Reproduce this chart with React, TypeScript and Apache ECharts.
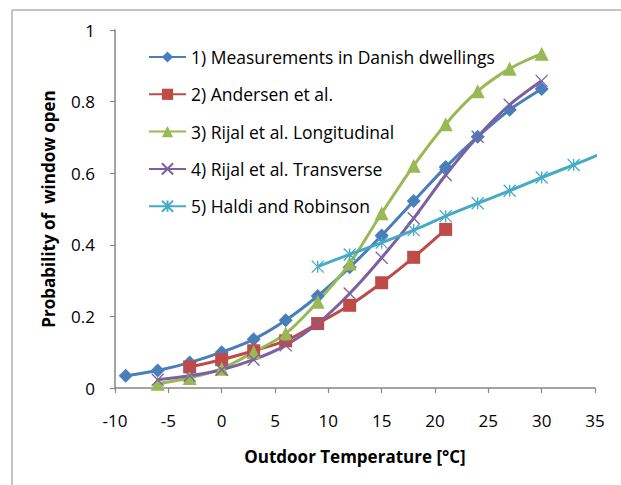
import React, { useEffect, useRef } from "react";
import * as echarts from "echarts";

const temps1 = [-9, -6, -3, 0, 3, 6, 9, 12, 15, 18, 21, 24, 27, 30];
const measured = [0.034, 0.049, 0.071, 0.1, 0.136, 0.189, 0.257, 0.337, 0.426, 0.522, 0.617, 0.702, 0.777, 0.835];

const temps2 = [-3, 0, 3, 6, 9, 12, 15, 18, 21];
const andersen = [0.059, 0.079, 0.104, 0.132, 0.18, 0.231, 0.294, 0.365, 0.443];

const temps3 = [-6, -3, 0, 3, 6, 9, 12, 15, 18, 21, 24, 27, 30];
const rijalLong = [0.012, 0.028, 0.054, 0.1, 0.152, 0.241, 0.348, 0.488, 0.621, 0.737, 0.829, 0.892, 0.934];

const temps4 = [-6, -3, 0, 3, 6, 9, 12, 15, 18, 21, 24, 27, 30];
const rijalTrans = [0.023, 0.034, 0.051, 0.079, 0.119, 0.18, 0.264, 0.364, 0.474, 0.595, 0.702, 0.791, 0.858];

const temps5 = [9, 12, 15, 18, 21, 24, 27, 30, 33, 36];
const haldi = [0.339, 0.373, 0.406, 0.441, 0.48, 0.516, 0.551, 0.588, 0.623, 0.66];

const seriesNames = [
  "1) Measurements in Danish dwellings",
  "2) Andersen et al.",
  "3) Rijal et al. Longitudinal",
  "4) Rijal et al. Transverse",
  "5) Haldi and Robinson",
];
const colors = ["#4A7EBB", "#BE4B48", "#98B954", "#7D60A0", "#46AAC5"];

const FONT = "'Open Sans'";

const crossPath = "path://M0,0L10,10M10,0L0,10";
const starPath = "path://M5,0L5,10M0,0L10,10M10,0L0,10";

function pairs(xs: number[], ys: number[]) {
  return xs.map((x, i) => [x, ys[i]]);
}

export default function App() {
  const ref = useRef<HTMLDivElement>(null);
  useEffect(() => {
    if (!ref.current) return;
    const chart = echarts.init(ref.current, undefined, { renderer: "svg" });
    const mk = (
      idx: number,
      xs: number[],
      ys: number[],
      symbol: string,
      size: number,
      stroke: boolean
    ) => ({
      name: seriesNames[idx],
      type: "line",
      data: pairs(xs, ys),
      smooth: 0.3,
      symbol,
      symbolSize: size,
      showAllSymbol: true,
      clip: true,
      lineStyle: { color: colors[idx], width: 3 },
      itemStyle: stroke
        ? { color: colors[idx], borderColor: colors[idx], borderWidth: 1.3 }
        : { color: colors[idx], borderWidth: 0 },
      emphasis: { disabled: true },
    });
    chart.setOption({
      animation: false,
      backgroundColor: "#ffffff",
      graphic: [
        {
          type: "rect",
          shape: { x: 12, y: 10, width: 700, height: 600 },
          style: { fill: "none", stroke: "#8a8a8a", lineWidth: 1 },
          silent: true,
        },
      ],
      grid: { left: 115, right: 26, top: 30, bottom: 97, containLabel: false },
      legend: {
        orient: "vertical",
        left: 143,
        top: 42,
        itemWidth: 37,
        itemHeight: 14,
        itemGap: 17.3,
        textStyle: { fontFamily: FONT, fontSize: 17.5, color: "#000", lineHeight: 20 },
        data: seriesNames,
      },
      xAxis: {
        type: "value",
        min: -10,
        max: 35,
        interval: 5,
        name: "Outdoor Temperature [°C]",
        nameLocation: "middle",
        nameGap: 60,
        nameTextStyle: { fontFamily: FONT, fontSize: 17, fontWeight: "bold", color: "#000" },
        axisLine: { show: true, onZero: false, lineStyle: { color: "#868686", width: 1.5 } },
        axisTick: { show: true, length: 5, lineStyle: { color: "#868686", width: 1.2 } },
        axisLabel: { margin: 24, fontFamily: FONT, fontSize: 17, color: "#000" },
        splitLine: { show: false },
        minorSplitLine: { show: false },
        axisPointer: { show: false },
      },
      yAxis: {
        type: "value",
        position: "left",
        min: 0,
        max: 1,
        interval: 0.2,
        name: "Probability of  window open",
        nameLocation: "middle",
        nameGap: 58,
        nameRotate: 90,
        nameTextStyle: { fontFamily: FONT, fontSize: 17, fontWeight: "bold", color: "#000" },
        axisLine: { show: true, onZero: false, lineStyle: { color: "#868686", width: 1.5 } },
        axisTick: { show: true, length: 5, lineStyle: { color: "#868686", width: 1.2 } },
        axisLabel: { margin: 20, fontFamily: FONT, fontSize: 17, color: "#000" },
        splitLine: { show: false },
        minorSplitLine: { show: false },
        axisPointer: { show: false },
      },
      series: [
        mk(0, temps1, measured, "diamond", 14, false),
        mk(1, temps2, andersen, "rect", 13, false),
        mk(2, temps3, rijalLong, "triangle", 14, false),
        mk(3, temps4, rijalTrans, crossPath, 12, true),
        mk(4, temps5, haldi, starPath, 12, true),
      ],
    });
    return () => chart.dispose();
  }, []);
  return (
    <div
      ref={ref}
      style={{ position: "fixed", left: 0, top: 0, width: 621, height: 485, background: "#fff" }}
    />
  );
}
